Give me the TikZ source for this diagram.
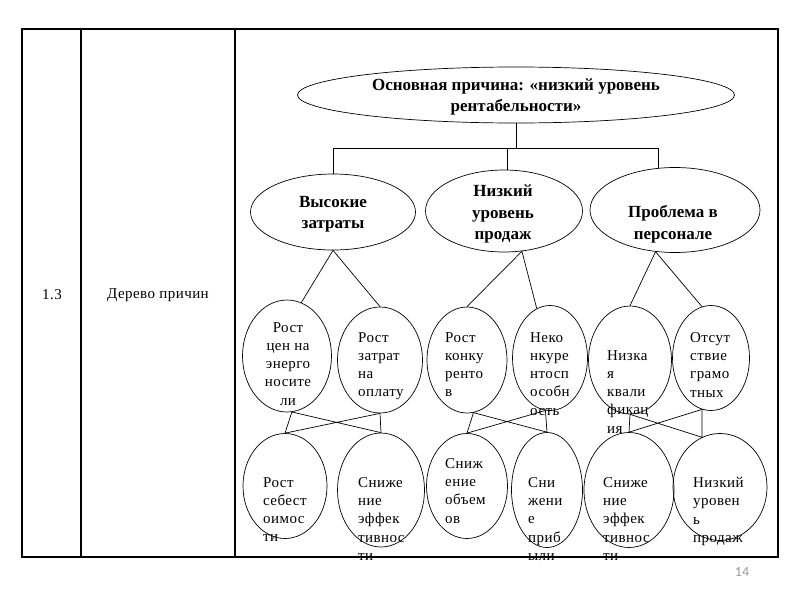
\documentclass[tikz,border=0pt]{standalone}
\usepackage{fontspec}
\setmainfont{Liberation Serif}
\newfontfamily\leaffont{Liberation Serif}[LetterSpace=3]
\newfontfamily\pagefont{Carlito}
\usetikzlibrary{shapes.geometric}

\begin{document}
\begin{tikzpicture}[x=1pt,y=-1pt,
    oval/.style={draw,ellipse,inner sep=0pt,line width=0.7pt},
    wire/.style={line width=0.7pt},
    bigtext/.style={font=\fontsize{17}{21.5}\selectfont\bfseries,align=center,inner sep=0pt},
    smalltext/.style={font=\leaffont\fontsize{15}{18.3}\selectfont,align=left,inner sep=0pt,anchor=north west}]
    \useasboundingbox (0,0) rectangle (800,600);
    % table
    \draw[line width=1.1pt] (22,29) rectangle (778,557);
    \draw[line width=1.1pt] (81,29) -- (81,557) (235,29) -- (235,557);
    \node[smalltext,anchor=center] (num) at (52,295) {1.3};
    \node[smalltext,anchor=center] (name) at (158,295) {Дерево причин};

    % top and middle level
    \node[oval,minimum width=437pt,minimum height=56pt] (top) at (516,95) {};
    \node[oval,minimum width=165pt,minimum height=76pt] (m1) at (333,212) {};
    \node[oval,minimum width=157pt,minimum height=82pt] (m2) at (504,211) {};
    \node[oval,minimum width=170pt,minimum height=85pt] (m3) at (675,210) {};
    \draw[wire] (top.south) -- ++(0,25) coordinate (hub);
    \draw[wire] (m1.north) |- (hub) -| (m3.112);
    \draw[wire] (m2.85) -- (m2.85 |- hub);
    \node[bigtext] (ttop) at (516,97) {Основная причина: «низкий уровень\\рентабельности»};
    \node[bigtext] (tm1) at (333,214) {Высокие\\затраты};
    \node[bigtext] (tm2) at (503,214) {Низкий\\уровень\\продаж};
    \node[bigtext] (tm3) at (673,224) {Проблема в\\персонале};

    % causes, first row
    \node[oval,minimum width=89pt,minimum height=112pt] (a) at (287,356) {};
    \node[oval,minimum width=85pt,minimum height=106pt] (b) at (380,360) {};
    \node[oval,minimum width=80pt,minimum height=106pt] (c) at (467,360) {};
    \node[oval,minimum width=75pt,minimum height=105pt] (d) at (550,358) {};
    \node[oval,minimum width=83pt,minimum height=108pt] (e) at (630,360) {};
    \node[oval,minimum width=77pt,minimum height=105pt] (f) at (711,358) {};
    % causes, second row
    \node[oval,minimum width=84pt,minimum height=105pt] (g) at (285,486) {};
    \node[oval,minimum width=87pt,minimum height=114pt] (h) at (381,490) {};
    \node[oval,minimum width=81pt,minimum height=105pt] (i) at (467,486) {};
    \node[oval,minimum width=71pt,minimum height=115pt] (j) at (547,490) {};
    \node[oval,minimum width=90pt,minimum height=115pt] (k) at (629,490) {};
    \node[oval,minimum width=94pt,minimum height=107pt] (l) at (720,487) {};

    \foreach \m/\p/\q in {m1.south/a.75/b.north, m2.294/c.north/d.105, m3.245/e.north/f.100}
        \draw[wire] (\p) -- (\m) -- (\q);
    \foreach \ua/\ub/\da/\db in {a.275/b.south/g.north/h.north, c.277/d.265/i.north/j.north, e.south/f.260/k.north/l.110}
        \draw[wire] (\ua) -- (\da) (\ua) -- (\db) (\ub) -- (\da) (\ub) -- (\db);

    \node[smalltext,anchor=north,align=center] (ta) at (288,322) {Рост\\цен на\\энерго\\носите\\ли};
    \node[smalltext] (tb) at (358,332) {Рост\\затрат\\на\\оплату};
    \node[smalltext] (tc) at (445,332) {Рост\\конку\\ренто\\в};
    \node[smalltext] (td) at (530,332) {Неко\\нкуре\\нтосп\\особн\\ость};
    \node[smalltext] (te) at (607,350) {Низка\\я\\квали\\фикац\\ия};
    \node[smalltext] (tf) at (690,332) {Отсут\\ствие\\грамо\\тных};
    \node[smalltext] (tg) at (263,477) {Рост\\себест\\оимос\\ти};
    \node[smalltext] (th) at (358,477) {Сниже\\ние\\эффек\\тивнос\\ти};
    \node[smalltext] (ti) at (445,458) {Сниж\\ение\\объем\\ов};
    \node[smalltext] (tj) at (528,477) {Сни\\жени\\е\\приб\\ыли};
    \node[smalltext] (tk) at (603,477) {Сниже\\ние\\эффек\\тивнос\\ти};
    \node[smalltext] (tl) at (693,477) {Низкий\\уровен\\ь\\продаж};

    \node[font=\pagefont\fontsize{14}{16}\selectfont,text=gray!80] (pg) at (742,572) {14};
\end{tikzpicture}
\end{document}
